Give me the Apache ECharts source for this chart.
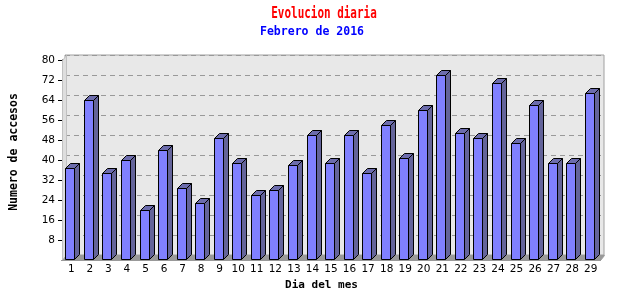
<!DOCTYPE html>
<html>
<head>
<meta charset="utf-8">
<script src="https://cdn.jsdelivr.net/npm/echarts@6/dist/echarts.min.js"></script>
<style>html,body{margin:0;padding:0;background:#fff}#c{width:640px;height:300px}</style>
</head>
<body>
<div id="c"></div>
<script>
const titleText = 'Evolucion diaria';
const subtitleText = 'Febrero de 2016';
const xName = 'Dia del mes';
const yName = 'Numero de accesos';
const days = ['1','2','3','4','5','6','7','8','9','10','11','12','13','14','15','16','17','18','19','20','21','22','23','24','25','26','27','28','29'];
const visits = [37,64,35,40,20,44,29,23,49,39,26,28,38,50,39,50,35,54,41,60,74,51,49,71,47,62,39,39,67];
const yMin = 0, yMax = 80, yStep = 8;

const D = 5;
function renderBar(params, api) {
  const idx = api.value(0), v = api.value(1);
  const top = api.coord([idx, v]);
  const base = api.coord([idx, 0]);
  const band = api.size([1, 0])[0];
  const x0 = Math.round(top[0] - band * 0.32) + 0.5;
  const x1 = x0 + Math.round(band * 0.48);
  const yT = Math.round(top[1]) + 0.5;
  const yB = Math.round(base[1]) - 0.5;
  return {
    type: 'group',
    children: [
      {type: 'polygon', shape: {points: [[x1, yB], [x1, yT], [x1 + D, yT - D], [x1 + D, yB - D]]},
        style: {fill: '#64649a', stroke: '#000', lineWidth: 1}},
      {type: 'polygon', shape: {points: [[x0, yT], [x0 + D, yT - D], [x1 + D, yT - D], [x1, yT]]},
        style: {fill: '#6c6cac', stroke: '#000', lineWidth: 1}},
      {type: 'rect', shape: {x: x0, y: yT, width: x1 - x0, height: yB - yT},
        style: {fill: '#8080ff', stroke: '#000', lineWidth: 1}}
    ]
  };
}
function renderBox(params, api) {
  const band = api.size([1, 0])[0];
  const left = Math.round(api.coord([0, yMin])[0] - band / 2) + 0.5;
  const right = Math.round(api.coord([days.length - 1, yMin])[0] + band / 2) + 0.5;
  const y0 = Math.round(api.coord([0, yMin])[1]) + 0.5;
  const yTop = Math.round(api.coord([0, yMax])[1]) + 0.5;
  return {
    type: 'group',
    children: [
      {type: 'polygon', shape: {points: [[left, y0], [left, yTop], [left + 4, yTop - D], [left + 4, y0 - D]]},
        style: {fill: '#dedede', stroke: '#c0c0c0', lineWidth: 1}},
      {type: 'polygon', shape: {points: [[left, y0], [left + 4, y0 - D], [right + 4, y0 - D], [right, y0]]},
        style: {fill: '#999999', stroke: '#999999', lineWidth: 1}}
    ]
  };
}

const chart = echarts.init(document.getElementById('c'), null, {renderer: 'canvas'});
chart.setOption({
  animation: false,
  graphic: [
    {type: 'text', x: 324, y: 14, scaleX: 0.73, z: 10,
      style: {text: titleText, fill: '#ff0000', font: 'bold 15px "DejaVu Sans Mono"', align: 'center', verticalAlign: 'middle'}},
    {type: 'text', x: 312, y: 32, scaleX: 0.96, z: 10,
      style: {text: subtitleText, fill: '#0000ff', font: 'bold 12px "DejaVu Sans Mono"', align: 'center', verticalAlign: 'middle'}}
  ],
  grid: [
    {left: 65, top: 55, right: 36, bottom: 45, show: true, backgroundColor: '#e8e8e8', borderColor: '#a0a0a0', borderWidth: 1},
    {left: 61, top: 60, right: 40, bottom: 40}
  ],
  xAxis: [
    {gridIndex: 0, type: 'category', data: days, show: false},
    {gridIndex: 1, type: 'category', data: days,
      name: xName, nameLocation: 'middle', nameGap: 18,
      nameTextStyle: {fontFamily: 'DejaVu Sans Mono', fontWeight: 'bold', fontSize: 11, color: '#000', padding: [0, 19, 0, 0]},
      axisLine: {lineStyle: {color: '#000', width: 1}},
      axisTick: {length: 4, lineStyle: {color: '#000'}},
      axisLabel: {fontFamily: 'DejaVu Sans', fontSize: 10.5, color: '#000', margin: 4, interval: 0}}
  ],
  yAxis: [
    {gridIndex: 0, type: 'value', min: yMin, max: yMax, interval: yStep,
      axisLabel: {show: false}, axisLine: {show: false}, axisTick: {show: false},
      splitLine: {lineStyle: {color: '#999', type: [5, 4], width: 1}}},
    {gridIndex: 1, type: 'value', min: yMin, max: yMax, interval: yStep,
      name: yName, nameLocation: 'middle', nameRotate: 90, nameGap: 42,
      nameTextStyle: {fontFamily: 'DejaVu Sans Mono', fontWeight: 'bold', fontSize: 11.5, color: '#000', padding: [0, 0, 0, 16]},
      axisLine: {show: true, lineStyle: {color: '#000', width: 1}},
      axisTick: {show: true, length: 4, lineStyle: {color: '#000'}},
      axisLabel: {showMinLabel: false, fontFamily: 'DejaVu Sans', fontSize: 10.5, color: '#000', margin: 7, padding: [6, 0, 0, 0]},
      splitLine: {show: false}}
  ],
  series: [
    {type: 'custom', xAxisIndex: 1, yAxisIndex: 1, z: 1, data: [[0, 0]], renderItem: renderBox, silent: true},
    {type: 'custom', xAxisIndex: 1, yAxisIndex: 1, z: 3,
      data: visits.map((v, i) => [i, v]), encode: {x: 0, y: 1}, renderItem: renderBar}
  ]
});
</script>
</body>
</html>
